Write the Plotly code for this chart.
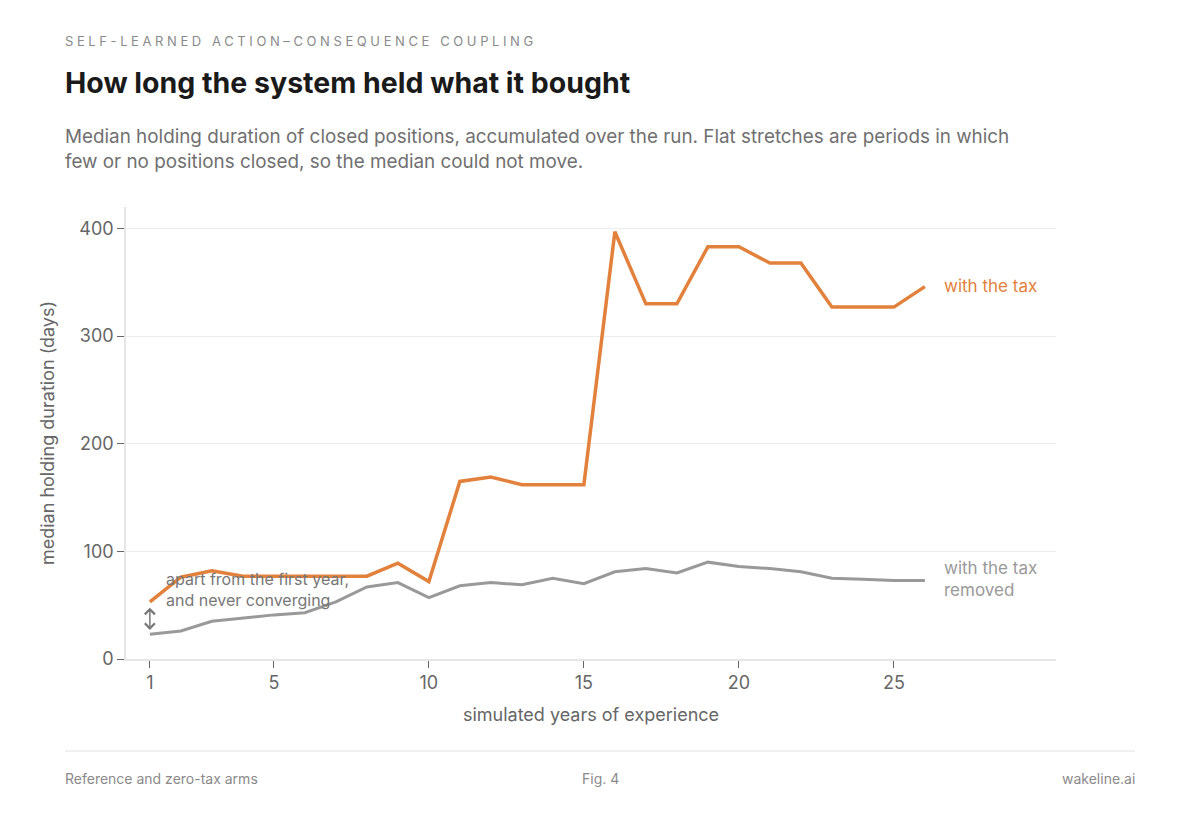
import plotly.graph_objects as go

years = list(range(1, 27))
with_tax = [53, 76, 82, 77, 77, 77, 77, 77, 89, 72, 165, 169, 162, 162, 162,
            397, 330, 330, 383, 383, 368, 368, 327, 327, 327, 346]
tax_removed = [23, 26, 35, 38, 41, 43, 53, 67, 71, 57, 68, 71, 69, 75, 70,
               81, 84, 80, 90, 86, 84, 81, 75, 74, 73, 73]
x_ticks = [1, 5, 10, 15, 20, 25]
y_ticks = [0, 100, 200, 300, 400]

ORANGE = "#e2813b"
GREY = "#999999"
FONT = "Inter"
LEFT = -0.0677  # left edge of header / footer, in paper units

fig = go.Figure()
fig.add_trace(go.Scatter(x=years, y=tax_removed, mode="lines",
                         line=dict(color=GREY, width=3), hoverinfo="skip"))
fig.add_trace(go.Scatter(x=years, y=with_tax, mode="lines",
                         line=dict(color=ORANGE, width=3.5), hoverinfo="skip"))

# direct labels at the line ends
fig.add_annotation(x=years[-1], y=with_tax[-1], text="with the tax", xanchor="left",
                   xshift=17, yshift=1, showarrow=False, font=dict(size=17, color=ORANGE))
fig.add_annotation(x=years[-1], y=tax_removed[-1], text="with the tax<br>removed",
                   xanchor="left", xshift=17, yshift=1, showarrow=False, align="left",
                   font=dict(size=17, color=GREY))

# gap note and double arrow at year 1
fig.add_annotation(x=1, y=64.5, text="apart from the first year,<br>and never converging",
                   xanchor="left", xshift=14, yanchor="middle", showarrow=False, align="left",
                   font=dict(size=16, color="#777777"))
fig.add_annotation(x=1, y=27, ax=1, ay=49, axref="x", ayref="y", text="",
                   font=dict(size=1), showarrow=True, arrowside="end+start", arrowhead=4,
                   arrowsize=1.3, arrowwidth=1.5, arrowcolor="#777777")

# header
fig.add_annotation(xref="paper", yref="paper", x=LEFT, y=1.367, xanchor="left",
                   yanchor="middle", text="SELF-LEARNED ACTION–CONSEQUENCE COUPLING",
                   showarrow=False, font=dict(size=13, color="#8a8a8a"))
fig.add_annotation(xref="paper", yref="paper", x=LEFT, y=1.2765, xanchor="left",
                   yanchor="middle", text="<b>How long the system held what it bought</b>",
                   showarrow=False, font=dict(size=28.5, color="#1a1a1a"))
fig.add_annotation(xref="paper", yref="paper", x=LEFT, y=1.1294, xanchor="left",
                   yanchor="middle", align="left", showarrow=False,
                   font=dict(size=18.85, color="#707070"),
                   text="Median holding duration of closed positions, accumulated over the run. "
                        "Flat stretches are periods in which<br>few or no positions closed, "
                        "so the median could not move.")

# footer
fig.add_shape(type="line", xref="paper", yref="paper", x0=-0.0656, x1=1.085,
              y0=-0.2035, y1=-0.2035, line=dict(color="#ebebeb", width=1.5))
fig.add_annotation(xref="paper", yref="paper", x=LEFT, y=-0.2633, xanchor="left",
                   yanchor="middle", text="Reference and zero-tax arms", showarrow=False,
                   font=dict(size=14, color="#8a8a8a"))
fig.add_annotation(xref="paper", yref="paper", x=0.5097, y=-0.2633, xanchor="center",
                   yanchor="middle", text="Fig. 4", showarrow=False,
                   font=dict(size=14, color="#8a8a8a"))
fig.add_annotation(xref="paper", yref="paper", x=1.087, y=-0.2633, xanchor="right",
                   yanchor="middle", text="wakeline.ai", showarrow=False,
                   font=dict(size=14, color="#8a8a8a"))

fig.update_layout(
    width=1200, height=829,
    margin=dict(l=126, r=144, t=207, b=170),
    paper_bgcolor="white", plot_bgcolor="white",
    showlegend=False,
    font=dict(family=FONT, color="#666666", size=18),
)
fig.update_xaxes(range=[0.23, 30.23], tickvals=x_ticks, showgrid=False, zeroline=False,
                 showline=True, linecolor="#e6e6e6", linewidth=1.5,
                 ticks="outside", ticklen=7, tickcolor="#666666", tickwidth=1,
                 tickfont=dict(size=18, color="#666666"),
                 title=dict(text="simulated years of experience", standoff=16,
                            font=dict(size=18, color="#666666")))
fig.update_yaxes(range=[0, 420], tickvals=y_ticks, showgrid=True, gridcolor="#ececec",
                 gridwidth=1.2, zeroline=False,
                 showline=True, linecolor="#e6e6e6", linewidth=1.5,
                 ticks="outside", ticklen=7, tickcolor="#666666", tickwidth=1,
                 tickfont=dict(size=18, color="#666666"),
                 title=dict(text="median holding duration (days)", standoff=20,
                            font=dict(size=18, color="#666666")))

# no page margin, and tracked-out eyebrow kept left-aligned
page_js = """
document.body.style.margin = '0';
document.querySelectorAll('.annotation-text').forEach(function (t) {
  if (t.textContent.indexOf('SELF-LEARNED') === 0) {
    var b0 = t.getBBox();
    t.style.letterSpacing = '3.6px';
    var b1 = t.getBBox();
    t.setAttribute('x', parseFloat(t.getAttribute('x') || 0) + (b0.x - b1.x));
  }
});
"""
fig.write_html("out.html", post_script=page_js, config={"displayModeBar": False})
